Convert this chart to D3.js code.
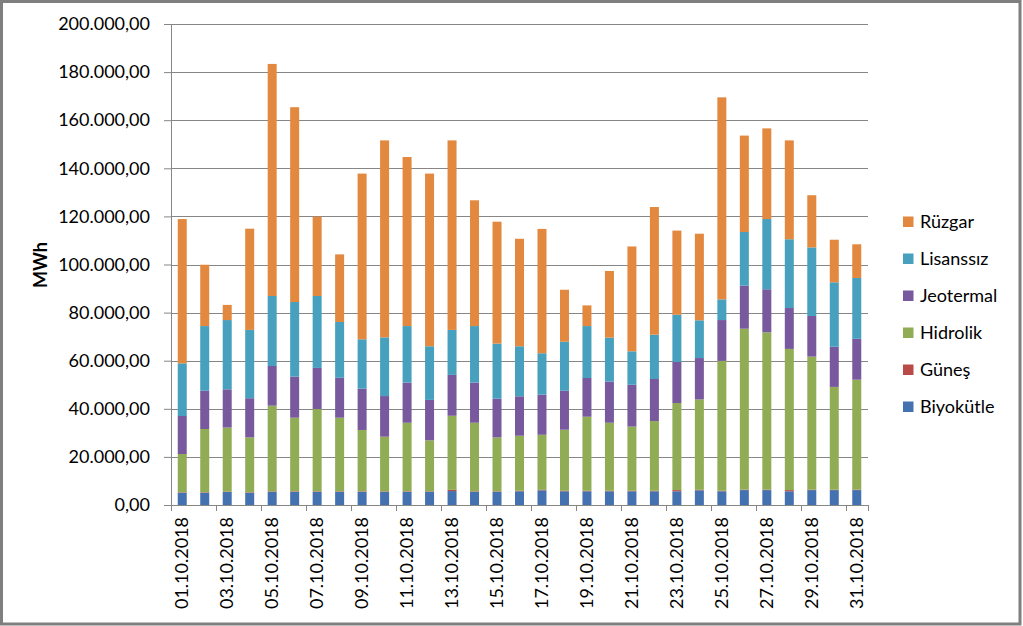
<!DOCTYPE html>
<html><head><meta charset="utf-8">
<script src="https://cdn.jsdelivr.net/npm/d3@7"></script>
<style>body{margin:0;background:#fff}svg{display:block}</style>
</head><body><svg id="c" width="1023" height="626"></svg>
<script>
const dates = ["01.10.2018","02.10.2018","03.10.2018","04.10.2018","05.10.2018","06.10.2018","07.10.2018","08.10.2018","09.10.2018","10.10.2018","11.10.2018","12.10.2018","13.10.2018","14.10.2018","15.10.2018","16.10.2018","17.10.2018","18.10.2018","19.10.2018","20.10.2018","21.10.2018","22.10.2018","23.10.2018","24.10.2018","25.10.2018","26.10.2018","27.10.2018","28.10.2018","29.10.2018","30.10.2018","31.10.2018"];
const seriesNames = ["Biyokütle","Güneş","Hidrolik","Jeotermal","Lisanssız","Rüzgar"];
const biyokutle = [5100,5100,5400,5100,5500,5500,5500,5500,5500,5500,5500,5500,5800,5500,5500,5700,6100,5700,5700,5700,5700,5700,5700,6100,5700,6200,6200,5700,6200,6200,6200];
const gunes     = [200,200,200,200,200,200,200,200,200,200,200,200,500,200,200,200,200,200,200,200,200,200,500,200,200,200,200,500,200,200,200];
const hidrolik  = [15900,26300,26600,22800,35600,30600,34200,30600,25500,22700,28500,21200,30800,28500,22400,22900,22900,25400,30800,28300,26700,29000,36200,37600,54000,66900,65400,58700,55300,42700,45700];
const jeotermal = [15800,15900,15900,16300,16500,17100,17100,16600,17200,16900,16700,16800,17000,16700,16100,16400,16700,16200,16100,17100,17400,17500,17100,17200,17000,17900,17900,17000,16900,16700,17000];
const lisanssiz = [21900,26900,28800,28400,29100,31000,29900,23200,20500,24400,23500,22300,18700,23500,22900,20800,17200,20400,21600,18300,13900,18400,19600,15700,8600,22300,29200,28600,28500,26800,25300];
const ruzgar    = [60000,25500,6300,42100,96500,81000,33000,28100,68900,81900,70300,71800,78800,52300,50700,44700,51700,21600,8600,27700,43600,53100,35000,36000,84000,40100,37700,41100,21700,17700,14000];
const yTicks = [0,20000,40000,60000,80000,100000,120000,140000,160000,180000,200000];
const colors = ["#4472B0","#BA4A47","#90AC55","#78599D","#46A0BE","#E2883F"];

const series = [biyokutle,gunes,hidrolik,jeotermal,lisanssiz,ruzgar];
const rows = dates.map((d,i)=>{const o={date:d}; seriesNames.forEach((s,j)=>o[s]=series[j][i]); return o;});
const stack = d3.stack().keys(seriesNames)(rows);

const svg = d3.select("#c");
const FONT = "Lato, 'Open Sans', sans-serif";
const x = d3.scaleBand().domain(dates).range([171,868]).paddingInner(0.6).paddingOuter(0.3);
const y = d3.scaleLinear().domain([0,200000]).range([505,24]);
const loc = d3.formatLocale({decimal:",",thousands:".",grouping:[3],currency:["",""]});
const fmt = loc.format(",.2f");

// gridlines
svg.append("g").selectAll("line").data(yTicks.slice(1)).join("line")
  .attr("x1",171).attr("x2",868).attr("y1",d=>Math.round(y(d))+0.5).attr("y2",d=>Math.round(y(d))+0.5)
  .attr("stroke","#868686").attr("stroke-width",1);

// bars
svg.append("g").selectAll("g").data(stack).join("g").attr("fill",(d,i)=>colors[i])
  .selectAll("rect").data(d=>d).join("rect")
  .attr("x",d=>x(d.data.date)).attr("width",x.bandwidth())
  .attr("y",d=>y(d[1])).attr("height",d=>y(d[0])-y(d[1]));

// y axis
const ya = svg.append("g").attr("transform","translate(171,0)")
  .call(d3.axisLeft(y).tickValues(yTicks).tickFormat(fmt).tickSize(7).tickPadding(14));
ya.select(".domain").attr("stroke","#868686");
ya.selectAll(".tick line").attr("stroke","#868686");
ya.selectAll("text").attr("font-family",FONT).attr("font-size",18).attr("fill","#000");

// x axis
const xa = svg.append("g").attr("transform","translate(0,505)");
xa.append("line").attr("x1",171).attr("x2",868).attr("y1",0.5).attr("y2",0.5).attr("stroke","#868686");
const step = x.step();
const boundaries = dates.filter((d,i)=>i%2===0).map(d=>x(d)-(step-x.bandwidth())/2);
boundaries.push(x(dates[dates.length-1])+x.bandwidth()+(step-x.bandwidth())/2);
xa.selectAll(".tk").data(boundaries).join("line").attr("class","tk")
  .attr("x1",d=>Math.round(d)+0.5).attr("x2",d=>Math.round(d)+0.5).attr("y1",0).attr("y2",6).attr("stroke","#868686");
xa.selectAll("text").data(dates.filter((d,i)=>i%2===0)).join("text")
  .attr("transform",d=>`translate(${x(d)+x.bandwidth()/2+6},12) rotate(-90)`)
  .attr("text-anchor","end").attr("font-family",FONT).attr("font-size",18).text(d=>d);

// y title
svg.append("text").attr("transform","translate(47,265) rotate(-90)").attr("text-anchor","middle")
  .attr("font-family",FONT).attr("font-weight","bold").attr("font-size",18).text("MWh");

// legend
const leg = svg.append("g").selectAll("g").data(seriesNames.slice().reverse()).join("g")
  .attr("transform",(d,i)=>`translate(903,${216.5+i*37})`);
leg.append("rect").attr("width",10.5).attr("height",10.5).attr("fill",d=>colors[seriesNames.indexOf(d)]);
leg.append("text").attr("x",17).attr("y",11.5).attr("font-family",FONT).attr("font-size",18).text(d=>d);

// border
svg.append("rect").attr("x",1.5).attr("y",1.5).attr("width",1018.5).attr("height",622.5)
  .attr("fill","none").attr("stroke","#7F7F7F").attr("stroke-width",3);
</script></body></html>
